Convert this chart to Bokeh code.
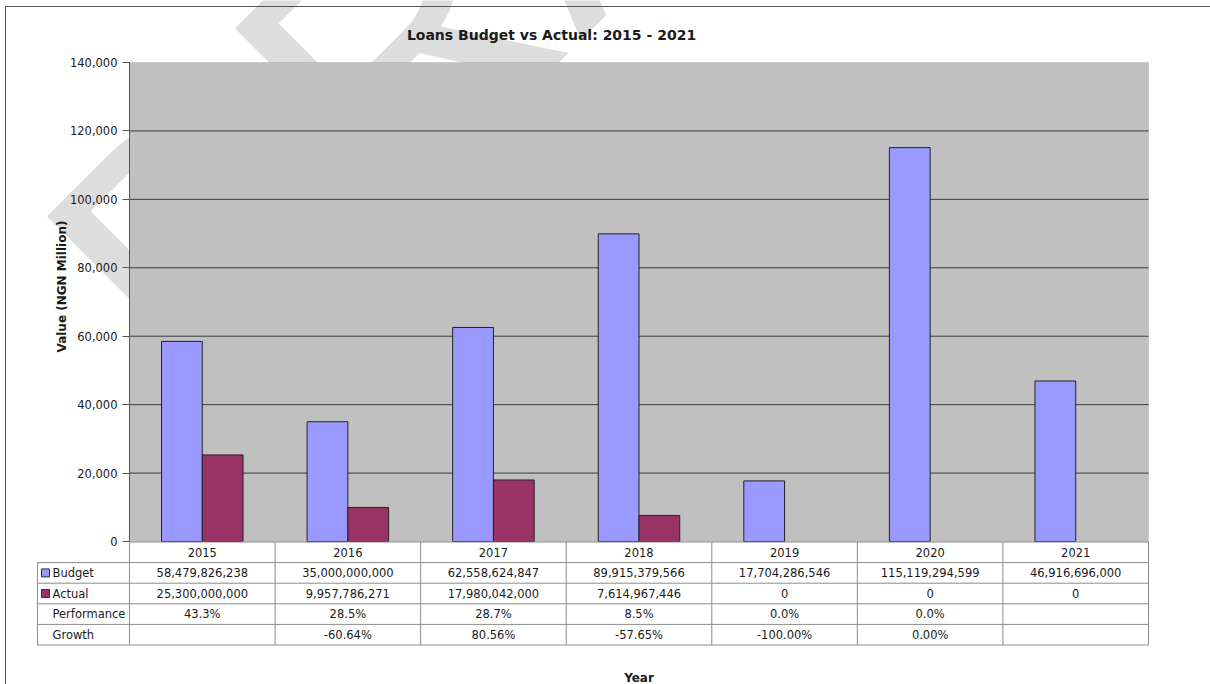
import math
from bokeh.plotting import figure
from bokeh.models import (Range1d, FixedTicker, NumeralTickFormatter, Label,
                          BoxAnnotation, ColumnDataSource, Div, CDSView, BooleanFilter)
from bokeh.embed import file_html
from bokeh.resources import INLINE
from bokeh.core.properties import value
from bokeh.transform import dodge

# ---------------- data ----------------
years = ["2015", "2016", "2017", "2018", "2019", "2020", "2021"]
budget = [58479826238, 35000000000, 62558624847, 89915379566,
          17704286546, 115119294599, 46916696000]
actual = [25300000000, 9957786271, 17980042000, 7614967446, 0, 0, 0]
performance = ["43.3%", "28.5%", "28.7%", "8.5%", "0.0%", "0.0%", ""]
growth = ["", "-60.64%", "80.56%", "-57.65%", "-100.00%", "0.00%", ""]
series_names = ["Budget", "Actual"]
extra_rows = ["Performance", "Growth"]
series_colors = ["#9999FF", "#993366"]
y_ticks = [0, 20000, 40000, 60000, 80000, 100000, 120000, 140000]
title_text = "Loans Budget vs Actual: 2015 - 2021"
y_label_text = "Value (NGN Million)"
x_label_text = "Year"
watermark_text = "DRAFT"

FONT = "DejaVu Sans"
TXT = "#1a1a1a"

# ---------------- layout (screen px, page has no margin) ----------------
W, H = 1210, 684
PL, PR, PT, PB = 129, 1148, 62, 541
N = len(years)
YMAX = y_ticks[-1]
KX = (PR - PL) / N
KY = (PB - PT) / YMAX
RH = (644 - 541) / 5          # data-table row height
TL = (37 - PL) / KX           # left edge of the table's label column

p = figure(width=W, height=H, output_backend="svg", toolbar_location=None,
           x_range=Range1d(-PL / KX, N + (W - PR) / KX),
           y_range=Range1d(-(H - PB) / KY, PB / KY),
           min_border_left=0, min_border_right=0,
           min_border_top=0, min_border_bottom=0, x_axis_location=None)
p.extra_y_ranges = {"table": Range1d((H - PB - 0.5) / RH, -(PB + 0.5) / RH)}
p.outline_line_color = None
p.background_fill_color = "white"
p.border_fill_color = "white"
p.xgrid.visible = False
p.ygrid.visible = False

ya = p.yaxis[0]
ya.fixed_location = 0
ya.bounds = (0, YMAX)
ya.ticker = FixedTicker(ticks=y_ticks)
ya.formatter = NumeralTickFormatter(format="0,0")
ya.major_tick_out = 7
ya.major_tick_in = 0
ya.minor_tick_line_color = None
ya.axis_line_color = "#555555"
ya.major_tick_line_color = "#555555"
ya.major_label_text_font = FONT
ya.major_label_text_font_size = "11.5px"
ya.major_label_text_color = TXT
ya.major_label_standoff = 5

# watermark behind the plot area
p.add_layout(Label(x=(114 - PL) / KX, y=(PB - 326) / KY, text=watermark_text,
                   angle=math.pi / 4, text_font="Liberation Sans", text_font_size="368px",
                   text_color="#dddddd", text_align="left", text_baseline="alphabetic",
                   level="image"))
p.add_layout(BoxAnnotation(left=0, right=N, bottom=0, top=YMAX, fill_color="#c0c0c0",
                           fill_alpha=1, line_color="#9a9a9a", line_width=1, level="image"))

grid_vals = y_ticks[1:-1]
p.segment(x0=[0] * len(grid_vals), x1=[N] * len(grid_vals), y0=grid_vals, y1=grid_vals,
          line_color="#3a3a3a", line_width=1)

src = ColumnDataSource(dict(x=[i + 0.5 for i in range(N)],
                            budget=[b / 1e6 for b in budget],
                            actual=[a / 1e6 for a in actual]))
p.vbar(x=dodge("x", -0.14), top="budget", width=0.28, source=src,
       view=CDSView(filter=BooleanFilter([b > 0 for b in budget])),
       fill_color=series_colors[0], line_color="#222222", line_width=1)
p.vbar(x=dodge("x", 0.14), top="actual", width=0.28, source=src,
       view=CDSView(filter=BooleanFilter([a > 0 for a in actual])),
       fill_color=series_colors[1], line_color="#222222", line_width=1)

p.add_layout(Label(x=(551 - PL) / KX, y=(PB - 34) / KY, text=title_text,
                   text_align="center", text_baseline="middle", text_font=FONT,
                   text_font_size="14px", text_font_style="bold", text_color=TXT))
p.add_layout(Label(x=(61 - PL) / KX, y=(PB - 286) / KY, text=y_label_text,
                   angle=math.pi / 2, text_align="center", text_baseline="middle",
                   text_font=FONT, text_font_size="12px", text_font_style="bold",
                   text_color=TXT))

# ---------------- data table ----------------
n_rows = 1 + len(series_names) + len(extra_rows)
hx0 = [0] + [TL] * n_rows
hx1 = [N] * (n_rows + 1)
hy = list(range(n_rows + 1))
p.segment(x0=hx0, x1=hx1, y0=hy, y1=hy, line_color="#8c8c8c", line_width=1,
          y_range_name="table")
vx = list(range(N + 1)) + [TL]
vy0 = [0] * (N + 1) + [1]
vy1 = [n_rows] * (N + 2)
p.segment(x0=vx, x1=vx, y0=vy0, y1=vy1, line_color="#8c8c8c", line_width=1,
          y_range_name="table")

cells_x, cells_y, cells_t = [], [], []
rows = [years, [f"{v:,}" for v in budget], [f"{v:,}" for v in actual], performance, growth]
for r, row in enumerate(rows):
    for i, t in enumerate(row):
        cells_x.append(i + 0.5)
        cells_y.append(r + 0.5)
        cells_t.append(t)
p.text(x=cells_x, y=cells_y, text=cells_t, text_align="center", text_baseline="middle",
       text_font=value(FONT), text_font_size="11.5px", text_color=TXT,
       y_range_name="table")

labels = series_names + extra_rows
p.text(x=[(52 - PL) / KX] * len(labels), y=[r + 1.5 for r in range(len(labels))],
       text=labels, text_align="left", text_baseline="middle",
       text_font=value(FONT), text_font_size="11.5px", text_color=TXT,
       y_range_name="table")
p.scatter(x=[(45 - PL) / KX] * 2, y=[1.5, 2.5], marker="square", size=8,
          fill_color=series_colors, line_color="#333333", line_width=1,
          y_range_name="table")

p.add_layout(Label(x=N / 2, y=(677 - PB - 0.5) / RH, y_range_name="table",
                   text=x_label_text, text_align="center", text_baseline="alphabetic",
                   text_font=FONT, text_font_size="12px", text_font_style="bold",
                   text_color=TXT))

frame_div = Div(text="", width=1205, height=678, margin=0,
                styles={"position": "absolute", "left": "5px", "top": "6px",
                        "border-left": "1px solid #555555",
                        "border-top": "1px solid #555555",
                        "pointer-events": "none"})

open("out.html", "w").write(file_html([p, frame_div], INLINE))
